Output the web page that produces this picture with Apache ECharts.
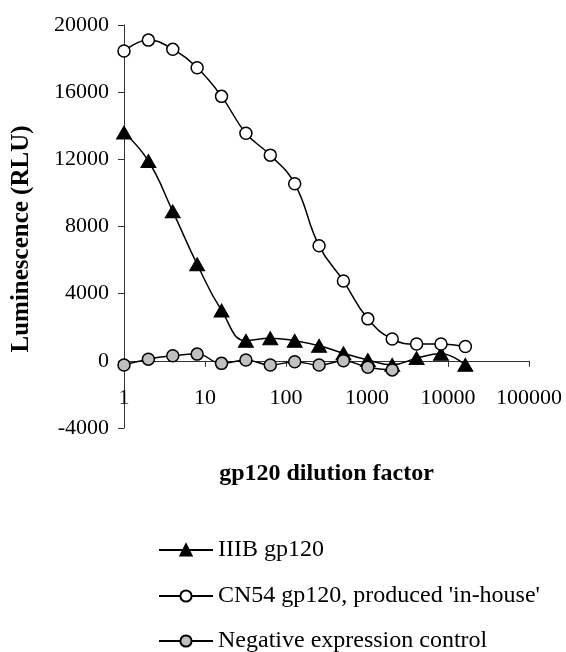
<!DOCTYPE html>
<html><head><meta charset="utf-8">
<script src="https://cdn.jsdelivr.net/npm/echarts@6/dist/echarts.min.js"></script>
<style>html,body{margin:0;padding:0;background:#fff}#c{width:566px;height:652px}</style>
</head><body><div id="c"></div>
<script>
// Data
const dilutions = [1, 2, 4, 8, 16, 32, 64, 128, 256, 512, 1024, 2048, 4096, 8192, 16384];
const iiibValues = [13600, 11900, 8900, 5750, 3000, 1200, 1350, 1200, 900, 450, 50, -240, 160, 420, -240];
const cn54Values = [18450, 19100, 18550, 17450, 15750, 13550, 12250, 10550, 6850, 4750, 2500, 1300, 1000, 1000, 850];
const negativeDilutions = [1, 2, 4, 8, 16, 32, 64, 128, 256, 512, 1024, 2048];
const negativeValues = [-250, 100, 300, 400, -150, 50, -250, -50, -250, 0, -380, -540];
const seriesNames = ['IIIB gp120', "CN54 gp120, produced 'in-house'", 'Negative expression control'];
const xTickLabels = ['1', '10', '100', '1000', '10000', '100000'];
const yTickLabels = ['-4000', '0', '4000', '8000', '12000', '16000', '20000'];
const xTitle = 'gp120 dilution factor';
const yTitle = 'Luminescence (RLU)';

const pairs = (xs, ys) => xs.map((x, i) => [x, ys[i]]);
const serif = "'Liberation Serif', 'Times New Roman', serif";
const legendTops = [538, 584, 629];

const chart = echarts.init(document.getElementById('c'), null, {renderer: 'canvas'});
chart.setOption({
  animation: false,
  backgroundColor: '#fff',
  textStyle: {fontFamily: serif, color: '#000'},
  grid: {left: 124, right: 37, top: 25, bottom: 224, containLabel: false},
  xAxis: {
    type: 'log', logBase: 10,
    min: Number(xTickLabels[0]), max: Number(xTickLabels[xTickLabels.length - 1]),
    axisLine: {onZero: true, lineStyle: {color: '#333', width: 1}},
    axisTick: {show: true, inside: false, length: 6, lineStyle: {color: '#333'}},
    minorTick: {show: false},
    splitLine: {show: false},
    axisLabel: {margin: -41, fontSize: 22, fontFamily: serif, color: '#000',
      formatter: v => xTickLabels.includes(String(Math.round(v))) ? String(Math.round(v)) : ''},
    name: xTitle, nameLocation: 'middle', nameGap: 34,
    nameTextStyle: {fontSize: 24, fontWeight: 'bold', fontFamily: serif, color: '#000'}
  },
  yAxis: {
    type: 'value',
    min: Number(yTickLabels[0]), max: Number(yTickLabels[yTickLabels.length - 1]), interval: 4000,
    axisLine: {show: true, lineStyle: {color: '#333', width: 1}},
    axisTick: {show: true, inside: false, length: 6, lineStyle: {color: '#333'}},
    splitLine: {show: false},
    axisLabel: {margin: 15, fontSize: 22, fontFamily: serif, color: '#000', formatter: v => String(v)}
  },
  graphic: [{
    type: 'text', x: 22, y: 239, rotation: Math.PI / 2,
    style: {text: yTitle, fontSize: 25, fontWeight: 'bold', fontFamily: serif, fill: '#000',
      textAlign: 'center', textVerticalAlign: 'middle'}
  }],
  legend: seriesNames.map((n, i) => ({
    orient: 'vertical', left: 158, top: legendTops[i], padding: 0,
    itemWidth: 54, itemHeight: 14, itemGap: 0,
    textStyle: {fontSize: 24, fontFamily: serif, color: '#000'},
    data: [n]
  })),
  series: [
    {
      name: seriesNames[0], type: 'line', smooth: 0.45,
      data: pairs(dilutions, iiibValues),
      symbol: 'triangle', symbolSize: [15, 13],
      lineStyle: {color: '#000', width: 1.5},
      itemStyle: {color: '#000', borderColor: '#000', borderWidth: 1}
    },
    {
      name: seriesNames[1], type: 'line', smooth: 0.45,
      data: pairs(dilutions, cn54Values),
      symbol: 'circle', symbolSize: 12,
      lineStyle: {color: '#000', width: 1.5},
      itemStyle: {color: '#fff', borderColor: '#000', borderWidth: 1.5}
    },
    {
      name: seriesNames[2], type: 'line', smooth: 0.45,
      data: pairs(negativeDilutions, negativeValues),
      symbol: 'circle', symbolSize: 12,
      lineStyle: {color: '#000', width: 1.5},
      itemStyle: {color: '#c0c0c0', borderColor: '#000', borderWidth: 1.5}
    }
  ]
});
</script>
</body></html>
